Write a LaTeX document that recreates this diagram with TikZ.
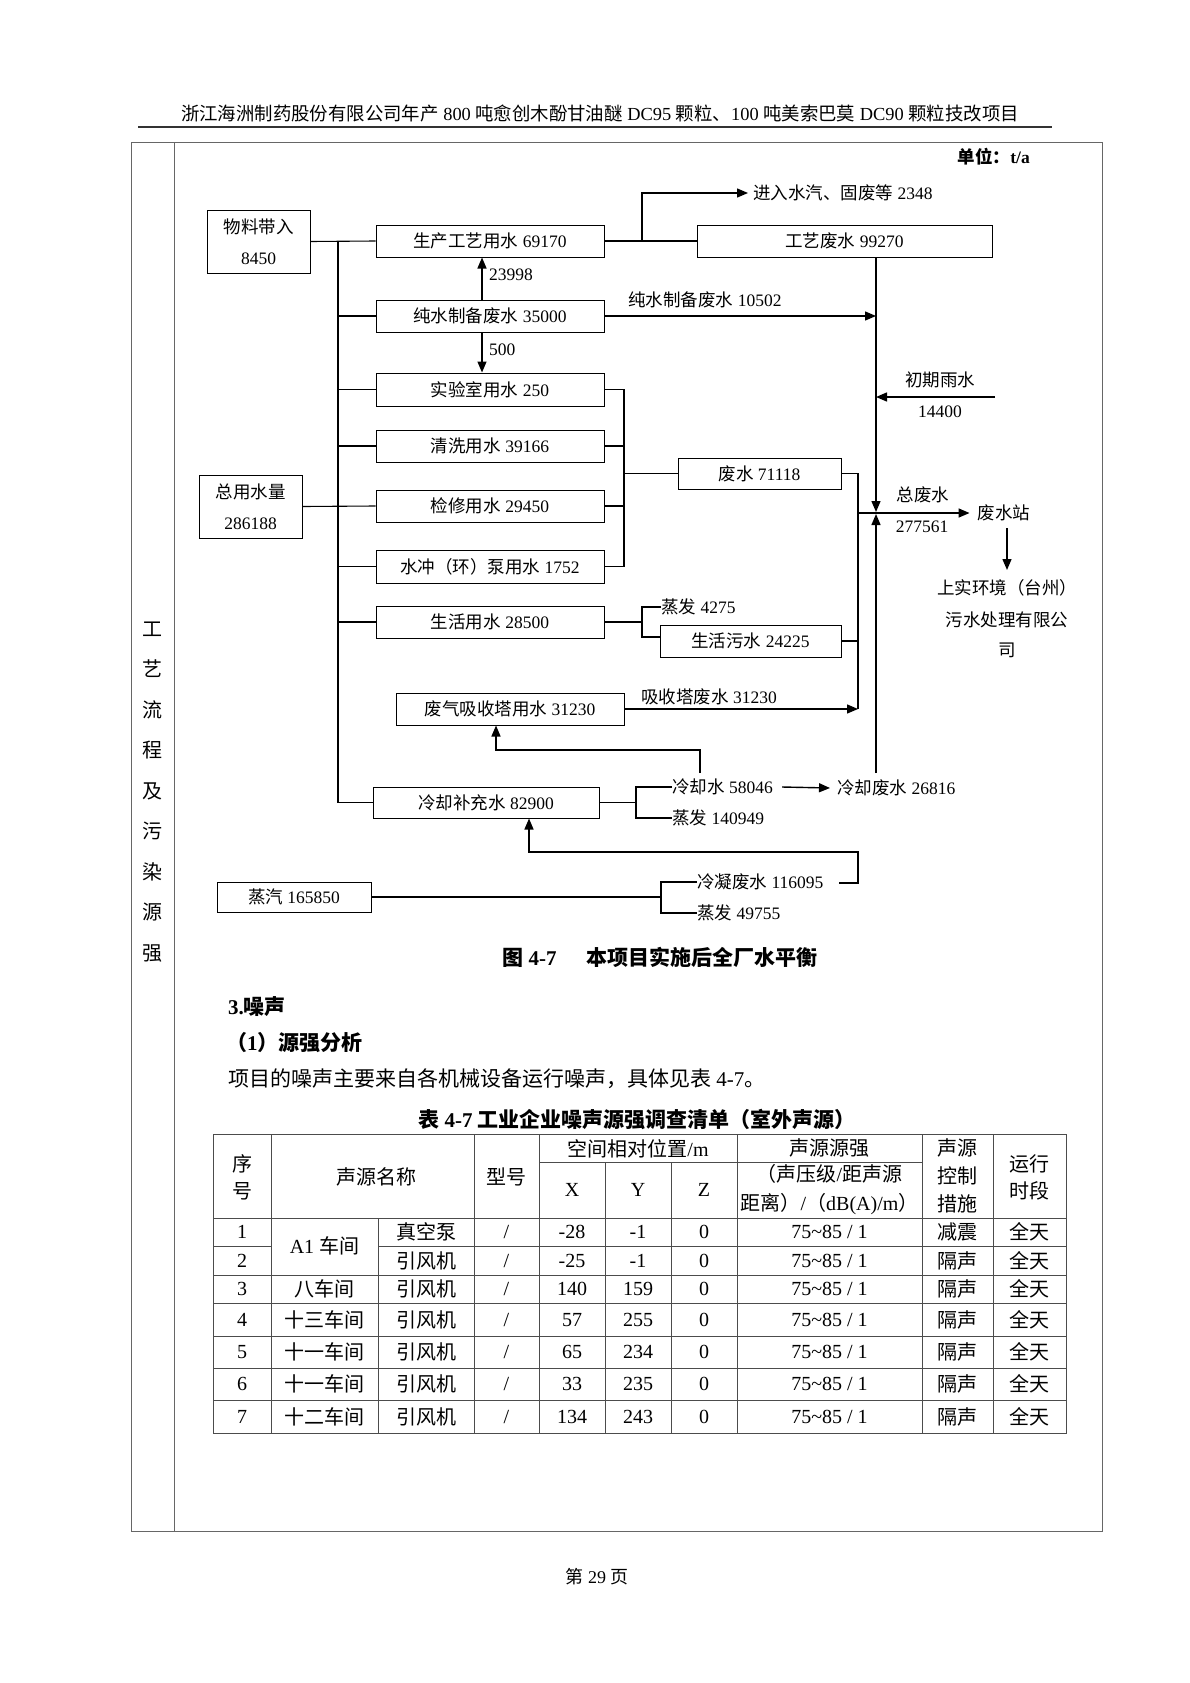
\documentclass[tikz,border=0pt]{standalone}
\usepackage{fontspec}
\setmainfont{Liberation Serif}
\newfontfamily\cjk{Noto Sans CJK SC}
\usetikzlibrary{arrows.meta}
\newcommand\Z[1]{{\cjk #1}}
\newcommand\fd{\fontsize{17.5}{21}\selectfont}
\newcommand\ft{\fontsize{20}{24}\selectfont}
\begin{document}
\begin{tikzpicture}[x=1pt,y=-1pt,
  bx/.style={draw,line width=1pt,inner sep=0pt,font=\fd,minimum width=228pt,minimum height=32pt},
  twoline/.style={align=center,font=\fontsize{17.5}{31}\selectfont,minimum width=103pt,minimum height=63pt},
  lbl/.style={inner sep=0pt,font=\fd},
  ln/.style={line width=1.1pt},
  arr/.style={line width=1.4pt,-{Triangle[length=11pt,width=9pt]}},
  frm/.style={line width=1pt,black!60},
  tl/.style={line width=0.9pt,black!70},
  tc/.style={inner sep=0pt,font=\ft},
  tcc/.style={inner sep=0pt,font=\cjk\ft},
]
\fill[white] (0,0) rectangle (1190,1683);
\useasboundingbox (0,0) rectangle (1190,1683);

% ---------- page header and frame ----------
\node[inner sep=0pt,font=\fontsize{18.4}{22}\selectfont] (hdr) at (600,113)
  {\Z{浙江海洲制药股份有限公司年产} 800 \Z{吨愈创木酚甘油醚} DC95 \Z{颗粒、}100 \Z{吨美索巴莫} DC90 \Z{颗粒技改项目}};
\draw[line width=1.2pt,black!80] (138,127) -- (1052,127);
\draw[frm] (131,142) rectangle (1102,1531);
\draw[frm] (174,142) -- (174,1531);
\node[inner sep=0pt,align=center,font=\cjk\fontsize{20}{40.5}\selectfont] (side) at (152.5,792)
  {工\\艺\\流\\程\\及\\污\\染\\源\\强};
\node[inner sep=0pt,anchor=east,font=\bfseries\fd] (unit) at (1030,157) {\Z{单位：}t/a};

% ---------- boxes ----------
\node[bx,twoline] (wl) at (258.5,241.5) {\Z{物料带入}\\8450};
\node[bx,twoline] (zy) at (250.5,506.5) {\Z{总用水量}\\286188};
\node[bx] (sc) at (490,241) {\Z{生产工艺用水} 69170};
\node[bx] (cs) at (490,316) {\Z{纯水制备废水} 35000};
\node[bx,minimum height=33pt] (sy) at (490,389.5) {\Z{实验室用水} 250};
\node[bx] (qx) at (490,446) {\Z{清洗用水} 39166};
\node[bx] (jx) at (490,506) {\Z{检修用水} 29450};
\node[bx,minimum height=33pt] (sb) at (490,566.5) {\Z{水冲（环）泵用水} 1752};
\node[bx] (sh) at (490,622) {\Z{生活用水} 28500};
\node[bx] (fq) at (510,709) {\Z{废气吸收塔用水} 31230};
\node[bx,minimum width=226pt,minimum height=31pt] (lq) at (486,802.5) {\Z{冷却补充水} 82900};
\node[bx,minimum width=154pt,minimum height=30pt] (zq) at (294,897) {\Z{蒸汽} 165850};
\node[bx,minimum width=295pt] (gy) at (844.5,241) {\Z{工艺废水} 99270};
\node[bx,minimum width=163pt,minimum height=31pt] (fs) at (759.5,473.5) {\Z{废水} 71118};
\node[bx,minimum width=181pt] (shws) at (750.5,641) {\Z{生活污水} 24225};

% ---------- labels ----------
\node[lbl,anchor=west] (t23998) at (489,275) {23998};
\node[lbl,anchor=west] (t500) at (489,350) {500};
\node[lbl,anchor=west] (tjr) at (753,193) {\Z{进入水汽、固废等} 2348};
\node[lbl] (tcs) at (705,300) {\Z{纯水制备废水} 10502};
\node[lbl] (tcq) at (940,380) {\Z{初期雨水}};
\node[lbl] (t14400) at (940,412) {14400};
\node[lbl] (tzfs) at (923,495) {\Z{总废水}};
\node[lbl] (t277) at (922,527) {277561};
\node[lbl] (tfsz) at (1004,513) {\Z{废水站}};
\node[lbl] (tss1) at (1007,588) {\Z{上实环境（台州）}};
\node[lbl] (tss2) at (1007,620) {\Z{污水处理有限公}};
\node[lbl] (tss3) at (1007,650) {\Z{司}};
\node[lbl,anchor=west] (tzf1) at (661,607) {\Z{蒸发} 4275};
\node[lbl] (txs) at (709,697) {\Z{吸收塔废水} 31230};
\node[lbl,anchor=west] (tlqs) at (672,787) {\Z{冷却水} 58046};
\node[lbl,anchor=west] (tzf2) at (672,818) {\Z{蒸发} 140949};
\node[lbl,anchor=west] (tlqf) at (837,788) {\Z{冷却废水} 26816};
\node[lbl,anchor=west] (tln) at (697,882) {\Z{冷凝废水} 116095};
\node[lbl,anchor=west] (tzf3) at (697,913) {\Z{蒸发} 49755};

% ---------- coordinates ----------
\coordinate (trT) at (338,241);
\coordinate (trB) at (338,802.5);
\coordinate (jrB) at (642,241);
\coordinate (J) at (876,513);
\coordinate (Jd) at (876,512);
\coordinate (Ju) at (876,514);
\coordinate (Cb) at (876,773);
\coordinate (rain) at (995,397);
\coordinate (Rt) at (624,389.5);
\coordinate (Rb) at (624,566.5);
\coordinate (F) at (858,473.5);
\coordinate (S) at (642,622);
\coordinate (Q1) at (700,773);
\coordinate (Q2) at (496,750);
\coordinate (L) at (636,802.5);
\coordinate (K0) at (839,883);
\coordinate (K) at (858,852);
\coordinate (V) at (661,897);
\coordinate (W1) at (1007,528);
\coordinate (W2) at (1007,570);

% ---------- supply side ----------
\draw[ln] (wl.east) -- (sc.west);
\draw[ln] (trT) -- (trB);
\foreach \b in {cs,sy,qx,sb,sh,lq} \draw[ln] (\b.west) -- (\b.west -| trT);
\draw[ln] (zy.east) -- (jx.west);
\draw[arr] ([xshift=-8pt]cs.north) -- ([xshift=-8pt]sc.south);
\draw[arr] ([xshift=-8pt]cs.south) -- ([xshift=-8pt]sy.north);

% ---------- process waste water ----------
\draw[ln] (sc.east) -- (gy.west);
\draw[arr] (jrB) |- ([xshift=-5pt]tjr.west);
\draw[arr] (gy.south -| J) -- (Jd);
\draw[arr] (Cb) -- (Ju);
\draw[arr] (cs.east) -- (cs.east -| J);
\draw[arr] (rain) -- (rain -| J);

% ---------- 71118 collector ----------
\draw[ln] (sy.east) -- (Rt) -- (Rb) -- (sb.east);
\draw[ln] (qx.east) -- (qx.east -| Rt);
\draw[ln] (jx.east) -- (jx.east -| Rt);
\draw[ln] (fs.west) -- (fs.west -| Rt);
\draw[ln] (fs.east) -| (F |- fq.east);
\draw[ln] (shws.east) -- (shws.east -| F);
\draw[arr] (fq.east) -- (fq.east -| F);
\draw[arr] (F |- J) -- ([xshift=-8pt]tfsz.west);
\draw[arr] (W1) -- (W2);

% ---------- domestic ----------
\draw[ln] (sh.east) -- (S);
\draw[ln] (tzf1.west) -| ([yshift=4pt]shws.west -| S) -- ([yshift=4pt]shws.west);

% ---------- cooling ----------
\draw[arr] (Q1) |- (Q2) -- (Q2 |- fq.south);
\draw[ln] (lq.east) -- (L);
\draw[ln] (tlqs.west) -| (L |- tzf2.west) -- (tzf2.west);
\draw[arr] ([xshift=9pt]tlqs.east) -- ([xshift=-7pt]tlqf.west);
\draw[arr] (K0) -| (K) -| ([xshift=43pt]lq.south);

% ---------- steam ----------
\draw[ln] (zq.east) -- (V);
\draw[ln] (tln.west) -| (V |- tzf3.west) -- (tzf3.west);

% ---------- caption and text ----------
\node[inner sep=0pt,font=\bfseries\fontsize{21}{25}\selectfont] (cap) at (660,957)
  {\Z{图} 4-7\hspace{30pt}\Z{本项目实施后全厂水平衡}};
\node[inner sep=0pt,anchor=west,font=\bfseries\fontsize{21}{25}\selectfont] (h3) at (228,1007) {3.\Z{噪声}};
\node[inner sep=0pt,anchor=west,font=\bfseries\fontsize{21}{25}\selectfont] (h31) at (226,1043) {\Z{（}1\Z{）源强分析}};
\node[inner sep=0pt,anchor=west,font=\fontsize{21}{25}\selectfont] (para) at (228,1079)
  {\Z{项目的噪声主要来自各机械设备运行噪声，具体见表} 4-7\Z{。}};
\node[inner sep=0pt,font=\bfseries\fontsize{21}{25}\selectfont] (tcap) at (637,1119)
  {\Z{表} 4-7 \Z{工业企业噪声源强调查清单（室外声源）}};

% ---------- table grid ----------
\draw[tl] (213,1134) rectangle (1066,1433);
\draw[tl] (539,1162.5) -- (922,1162.5);
\draw[tl] (213,1218) -- (1066,1218);
\draw[tl] (213,1246) -- (271,1246);
\draw[tl] (378,1246) -- (1066,1246);
\foreach \yy in {1275,1303.5,1336,1368,1400} \draw[tl] (213,\yy) -- (1066,\yy);
\foreach \xx in {271,474,539,737,922,993} \draw[tl] (\xx,1134) -- (\xx,1433);
\draw[tl] (378,1218) -- (378,1433);
\foreach \xx in {605,671} \draw[tl] (\xx,1162.5) -- (\xx,1433);

% ---------- table header ----------
\node[tcc,align=center,font=\cjk\fontsize{20}{27}\selectfont] (hA) at (242,1177) {序\\号};
\node[tcc] (hB) at (376,1177) {声源名称};
\node[tcc] (hC) at (506.5,1177) {型号};
\node[tc] (hD) at (638,1149) {\Z{空间相对位置}/m};
\node[tc] (hX) at (572,1190) {X};
\node[tc] (hY) at (638,1190) {Y};
\node[tc] (hZ) at (704,1190) {Z};
\node[tcc] (hE) at (829.5,1148) {声源源强};
\node[tc,align=center,font=\fontsize{20}{29}\selectfont] (hE2) at (829.5,1190)
  {\Z{（声压级}/\Z{距声源}\\\Z{距离）}/\Z{（}dB(A)/m\Z{）}};
\node[tcc,align=center,font=\cjk\fontsize{20}{28}\selectfont] (hF) at (957.5,1176) {声源\\控制\\措施};
\node[tcc,align=center,font=\cjk\fontsize{20}{27}\selectfont] (hG) at (1029.5,1177) {运行\\时段};

% ---------- table body ----------
\node[tc] (n1) at (242,1232) {1};
\node[tc] (n2) at (242,1260.5) {2};
\node[tc] (m12) at (324.5,1246) {A1 \Z{车间}};
\node[tcc] (d1) at (426,1232) {真空泵};
\node[tcc] (d2) at (426,1260.5) {引风机};
\node[tc] (y1) at (506.5,1232) {/};
\node[tc] (y2) at (506.5,1260.5) {/};
\node[tc] (x1) at (572,1232) {-28};
\node[tc] (x2) at (572,1260.5) {-25};
\node[tc] (yy1) at (638,1232) {-1};
\node[tc] (yy2) at (638,1260.5) {-1};
\node[tc] (z1) at (704,1232) {0};
\node[tc] (z2) at (704,1260.5) {0};
\node[tc] (s1) at (829.5,1232) {75\textasciitilde 85 / 1};
\node[tc] (s2) at (829.5,1260.5) {75\textasciitilde 85 / 1};
\node[tcc] (c1) at (957.5,1232) {减震};
\node[tcc] (c2) at (957.5,1260.5) {隔声};
\node[tcc] (g1) at (1029.5,1232) {全天};
\node[tcc] (g2) at (1029.5,1260.5) {全天};
\foreach \r/\y/\nm/\X/\Y in {3/1289/八车间/140/159, 4/1320/十三车间/57/255, 5/1352/十一车间/65/234, 6/1384/十一车间/33/235, 7/1416.5/十二车间/134/243}{
  \node[tc] (n\r) at (242,\y) {\r};
  \node[tcc] (m\r) at (324.5,\y) {\nm};
  \node[tcc] (d\r) at (426,\y) {引风机};
  \node[tc] (y\r) at (506.5,\y) {/};
  \node[tc] (x\r) at (572,\y) {\X};
  \node[tc] (yy\r) at (638,\y) {\Y};
  \node[tc] (z\r) at (704,\y) {0};
  \node[tc] (s\r) at (829.5,\y) {75\textasciitilde 85 / 1};
  \node[tcc] (c\r) at (957.5,\y) {隔声};
  \node[tcc] (g\r) at (1029.5,\y) {全天};
}

% ---------- page number ----------
\node[inner sep=0pt,font=\fontsize{18}{22}\selectfont] (pg) at (597,1577) {\Z{第} 29 \Z{页}};
\end{tikzpicture}
\end{document}
